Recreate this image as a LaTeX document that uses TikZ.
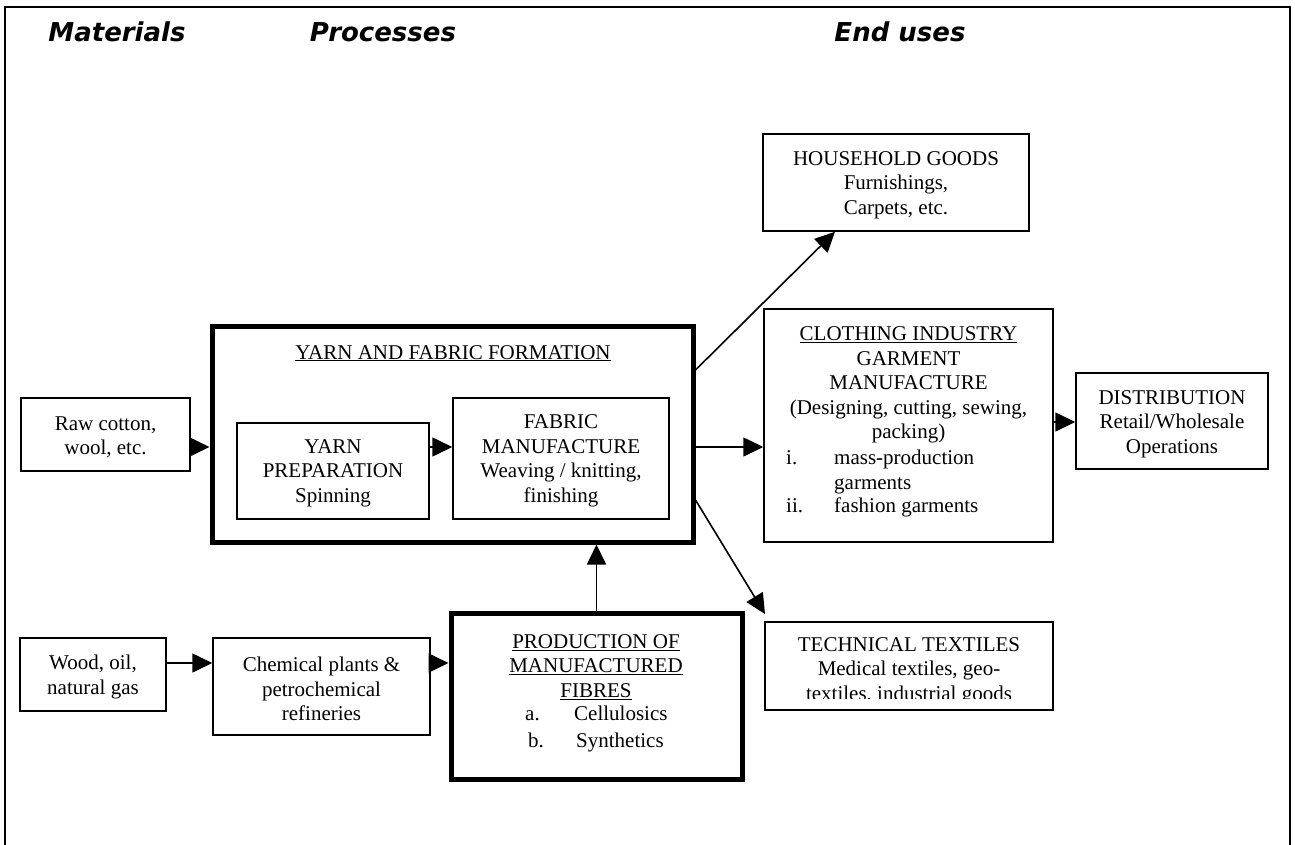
\documentclass[tikz,border=0pt]{standalone}
\usepackage{fontspec}
\setmainfont{Liberation Serif}
\newfontfamily\hdfamily{DejaVu Sans}
\usetikzlibrary{arrows.meta}
\newcommand{\tmsize}{\fontsize{21}{24.5}\selectfont}
\newcommand{\hdsize}{\hdfamily\bfseries\itshape\fontsize{26}{30}\selectfont}
\begin{document}
\begin{tikzpicture}[x=1pt,y=-1pt,
  box/.style={draw, line width=1.5pt, inner sep=0pt},
  heavybox/.style={draw, line width=5pt, inner sep=0pt},
  txt/.style={inner sep=0pt, align=center, font=\tmsize},
  ltxt/.style={inner sep=0pt, anchor=base west, font=\tmsize},
  hd/.style={inner sep=0pt, font=\hdsize},
  arr/.style={line width=1.6pt, -{Triangle[length=20pt,width=19pt]}}]
\useasboundingbox (0,0) rectangle (1295,844);
\fill[white] (0,0) rectangle (1295,844);
\draw[line width=1.5pt] (5,850) -- (5,7) -- (1290,7) -- (1290,850);
% headers
\node[hd] (hmat) at (117,32) {Materials};
\node[hd] (hproc) at (383,32) {Processes};
\node[hd] (hend) at (900,32) {End uses};
% materials
\node[box, minimum width=169pt, minimum height=73pt] (raw) at (105.5,434.5) {};
\node[txt] (rawt) at (105.5,437) {Raw cotton,\\wool, etc.};
\node[box, minimum width=146pt, minimum height=73pt] (wood) at (93,674.5) {};
\node[txt] (woodt) at (93,677) {Wood, oil,\\natural gas};
\node[box, minimum width=217pt, minimum height=97pt] (chem) at (321.5,686.5) {};
\node[txt] (chemt) at (321.5,689) {Chemical plants \&\\petrochemical\\refineries};
% yarn and fabric formation
\node[heavybox, minimum width=481pt, minimum height=216pt] (big) at (452.5,434) {};
\node[txt, anchor=base] (bigt) at (453,359) {\underline{YARN AND FABRIC FORMATION}};
\node[box, minimum width=192pt, minimum height=96pt] (yarn) at (333,471) {};
\node[txt] (yarnt) at (333,473) {YARN\\PREPARATION\\Spinning};
\node[box, minimum width=216pt, minimum height=121pt] (fabric) at (561,458.5) {};
\node[txt] (fabrict) at (561,461) {FABRIC\\MANUFACTURE\\Weaving / knitting,\\finishing};
% manufactured fibres
\node[heavybox, minimum width=291pt, minimum height=166pt] (prod) at (596.5,696) {};
\node[txt] (prodt) at (596,667) {\underline{PRODUCTION OF}\\\underline{MANUFACTURED}\\\underline{FIBRES}};
\node[ltxt] (pa) at (525,720) {a.};
\node[ltxt] (pat) at (574,720) {Cellulosics};
\node[ltxt] (pb) at (528,747) {b.};
\node[ltxt] (pbt) at (576,747) {Synthetics};
% end uses
\node[box, minimum width=266pt, minimum height=97pt] (house) at (896,182.5) {};
\node[txt] (houset) at (896,185) {HOUSEHOLD GOODS\\Furnishings,\\Carpets, etc.};
\node[box, minimum width=289pt, minimum height=233pt] (cloth) at (908.5,425.5) {};
\node[txt] (clotht) at (908.5,385) {\underline{CLOTHING INDUSTRY}\\GARMENT\\MANUFACTURE\\(Designing, cutting, sewing,\\packing)};
\node[ltxt] (ci) at (786,464) {i.};
\node[ltxt] (cit) at (834,464) {mass-production};
\node[ltxt] (cit2) at (834,489) {garments};
\node[ltxt] (cii) at (786,512) {ii.};
\node[ltxt] (ciit) at (834,512) {fashion garments};
\node[box, minimum width=192pt, minimum height=96pt] (dist) at (1172,421) {};
\node[txt] (distt) at (1172,424) {DISTRIBUTION\\Retail/Wholesale\\Operations};
\begin{scope}
\clip (765,622) rectangle (1053,698);
\node[txt] (techt) at (909,671) {TECHNICAL TEXTILES\\Medical textiles, geo-\\textiles, industrial goods};
\end{scope}
\node[box, minimum width=288pt, minimum height=88pt] (tech) at (909,666) {};
% connectors
\coordinate (r1) at (0,447);
\coordinate (r2) at (0,422);
\coordinate (r3) at (0,663);
\coordinate (h1) at (0,370);
\coordinate (h2) at (835,0);
\coordinate (t1) at (0,500);
\coordinate (ttip) at (765,614);
\draw[arr] (raw.east|-r1) -- (big.west|-r1);
\draw[arr] (yarn.east|-r1) -- (fabric.west|-r1);
\draw[arr] (big.east|-r1) -- (cloth.west|-r1);
\draw[arr] (cloth.east|-r2) -- (dist.west|-r2);
\draw[arr] (wood.east|-r3) -- (chem.west|-r3);
\draw[arr] (chem.east|-r3) -- (prod.west|-r3);
\draw[arr] (prod.north) -- (prod.north|-big.south);
\draw[arr] (big.east|-h1) -- (house.south-|h2);
\draw[arr] (big.east|-t1) -- (ttip);
\end{tikzpicture}
\end{document}
